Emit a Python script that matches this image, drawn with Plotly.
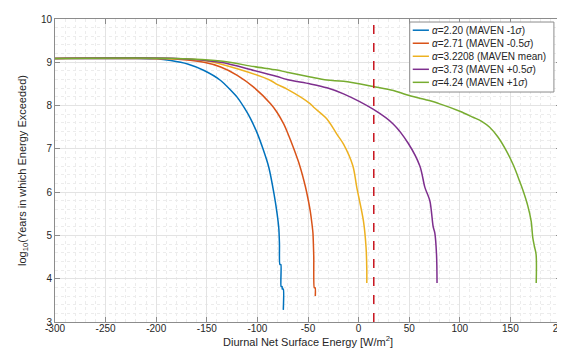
import plotly.graph_objects as go

# ---- data ----
blue_x = [-300, -220, -200, -185.5, -169, -152.7, -136.3, -119.9, -112.7, -106.8, -100.5, -94.5, -88.7, -83.5, -80.5, -78.8, -78.2, -77.8, -76.8, -76.6, -75.6, -75.4, -74.4, -74.4]
blue_y = [9.09, 9.09, 9.08, 9.04, 8.96, 8.81, 8.58, 8.19, 7.94, 7.70, 7.38, 7.00, 6.57, 5.95, 5.50, 5.15, 4.80, 4.33, 4.33, 3.82, 3.82, 3.76, 3.76, 3.28]

orange_x = [-300, -220, -185.5, -152.7, -136.3, -119.9, -103.4, -87.0, -80.5, -73.9, -70.7, -64.0, -58.0, -52.6, -50.2, -47.7, -46.1, -45.1, -44.3, -43.8, -42.9, -42.8]
orange_y = [9.09, 9.09, 9.08, 9.00, 8.89, 8.70, 8.42, 8.04, 7.84, 7.57, 7.40, 7.00, 6.60, 6.13, 5.87, 5.55, 5.27, 5.05, 4.50, 3.79, 3.79, 3.60]

yellow_x = [-300, -200, -152.7, -119.9, -87.0, -80.5, -70.7, -47.7, -44.4, -31.3, -21.5, -14.9, -5.7, -1.8, 4.8, 7.4, 8.1, 8.1]
yellow_y = [9.09, 9.09, 9.04, 8.85, 8.58, 8.49, 8.38, 8.04, 7.96, 7.69, 7.34, 7.11, 6.61, 6.11, 5.33, 4.71, 4.20, 3.90]

purple_x = [-300, -180, -136.3, -103.4, -80.5, -70.7, -47.7, -31.3, -14.9, 14.7, 34.4, 49.0, 60.6, 65.5, 70.4, 73.7, 75.3, 77.0, 77.5]
purple_y = [9.09, 9.09, 9.00, 8.81, 8.67, 8.60, 8.50, 8.41, 8.27, 7.91, 7.57, 7.13, 6.60, 6.11, 5.80, 5.20, 5.06, 4.56, 3.90]

green_x = [-300, -180, -136.3, -103.4, -80.5, -70.7, -47.7, -31.3, -14.9, 14.7, 34.4, 47.4, 67.1, 80.2, 100.0, 113.1, 122.0, 129.5, 137.5, 145.9, 153.0, 159.0, 162.3, 167.0, 170.5, 172.1, 173.7, 175.4, 175.5]
green_y = [9.09, 9.09, 9.03, 8.90, 8.82, 8.77, 8.66, 8.59, 8.56, 8.44, 8.35, 8.25, 8.13, 8.04, 7.87, 7.73, 7.63, 7.50, 7.28, 6.96, 6.62, 6.26, 6.05, 5.70, 5.33, 4.95, 4.75, 4.56, 3.90]

series_names = [
    "<i>α</i>=2.20 (MAVEN -1<i>σ</i>)",
    "<i>α</i>=2.71 (MAVEN -0.5<i>σ</i>)",
    "<i>α</i>=3.2208 (MAVEN mean)",
    "<i>α</i>=3.73 (MAVEN +0.5<i>σ</i>)",
    "<i>α</i>=4.24 (MAVEN +1<i>σ</i>)",
]
threshold_x = 15
x_ticks = [-300, -250, -200, -150, -100, -50, 0, 50, 100, 150, 200]
x_ticklabels = ["-300", "-250", "-200", "-150", "-100", "-50", "0", "50", "100", "150", "200"]
y_ticks = [3, 4, 5, 6, 7, 8, 9, 10]
y_ticklabels = ["3", "4", "5", "6", "7", "8", "9", "10"]

colors = ["#0072BD", "#D95319", "#EDB120", "#7E2F8E", "#77AC30"]
smooth = [0.6, 0.6, 0.9, 0.9, 0.9]
xs = [blue_x, orange_x, yellow_x, purple_x, green_x]
ys = [blue_y, orange_y, yellow_y, purple_y, green_y]

fig = go.Figure()
for name, x, y, c, s in zip(series_names, xs, ys, colors, smooth):
    fig.add_trace(go.Scatter(x=x, y=y, mode="lines", name=name, showlegend=False,
                             line=dict(color=c, width=1.5, shape="spline", smoothing=s)))

fig.add_trace(go.Scatter(x=[threshold_x, threshold_x], y=[3, 10], mode="lines",
                         line=dict(color="#C8141E", width=1.5, dash="dash"),
                         showlegend=False))

font_family = "Liberation Sans, Arial, sans-serif"
axis_common = dict(
    showline=True, linecolor="#8c8c8c", linewidth=1, mirror="ticks",
    ticks="inside", ticklen=5, tickcolor="#8c8c8c",
    showgrid=True, gridcolor="#e3e3e3", gridwidth=1,
    zeroline=False, automargin=False,
    tickfont=dict(size=10, color="#262626", family=font_family),
)

fig.update_xaxes(range=[-300, 200], tickvals=x_ticks, ticktext=x_ticklabels,
                 ticklabelstandoff=-3,
                 minor=dict(dtick=10, showgrid=True, gridcolor="#ececec", griddash="dot", ticks=""),
                 title=dict(text="Diurnal Net Surface Energy [W/m<sup>2</sup>]",
                            font=dict(size=11, color="#262626", family=font_family), standoff=2),
                 **axis_common)
fig.update_yaxes(range=[3, 10], tickvals=y_ticks, ticktext=y_ticklabels,
                 minor=dict(dtick=0.2, showgrid=True, gridcolor="#ececec", griddash="dot", ticks=""),
                 title=dict(text="log<sub>10</sub>(Years in which Energy Exceeded)",
                            font=dict(size=11, color="#262626", family=font_family), standoff=12),
                 **axis_common)

# ---- custom compact legend (MATLAB style) ----
leg_x0, leg_x1 = 0.701, 0.986
leg_top, leg_bot = 0.990, 0.759
row_y = [0.963, 0.920, 0.877, 0.834, 0.791]
fig.add_shape(type="rect", xref="x domain", yref="y domain",
              x0=leg_x0, x1=leg_x1, y0=leg_bot, y1=leg_top,
              fillcolor="white", line=dict(color="#8c8c8c", width=1), layer="above")
for name, c, ry in zip(series_names, colors, row_y):
    fig.add_shape(type="line", xref="x domain", yref="y domain",
                  x0=0.707, x1=0.739, y0=ry, y1=ry,
                  line=dict(color=c, width=1.5), layer="above")
    fig.add_annotation(xref="x domain", yref="y domain", x=0.741, y=ry,
                       text=name, showarrow=False, xanchor="left", yanchor="middle",
                       font=dict(size=10, family=font_family, color="#262626"))

fig.update_layout(
    width=565, height=354,
    margin=dict(l=47, r=12, t=11, b=40),
    paper_bgcolor="white", plot_bgcolor="white",
    font=dict(family=font_family, color="#262626"),
    showlegend=False,
)

fig.write_html("out.html")
